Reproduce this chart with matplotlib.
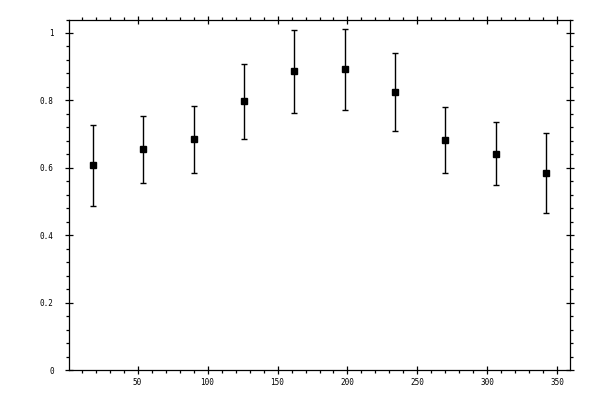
import matplotlib
matplotlib.use("Agg")
import matplotlib.pyplot as plt
from matplotlib.ticker import MultipleLocator, FuncFormatter

x_vals = [18, 54, 90, 126, 162, 198, 234, 270, 306, 342]
y_vals = [0.607, 0.655, 0.684, 0.797, 0.886, 0.892, 0.825, 0.682, 0.642, 0.584]
y_err = [0.119, 0.100, 0.100, 0.112, 0.124, 0.121, 0.115, 0.097, 0.093, 0.118]

fig = plt.figure(figsize=(6, 4), dpi=100)
ax = fig.add_axes([0.115, 0.075, 0.835, 0.87625])

ax.errorbar(x_vals, y_vals, yerr=y_err, fmt='s', color='black', ms=5,
            mec='black', mfc='black',
            elinewidth=1, capsize=2.2, capthick=1)

ax.set_xlim(1, 359)
ax.set_ylim(0, 1.04)

ax.xaxis.set_major_locator(MultipleLocator(50))
ax.xaxis.set_minor_locator(MultipleLocator(10))
ax.yaxis.set_major_locator(MultipleLocator(0.2))
ax.yaxis.set_minor_locator(MultipleLocator(0.04))
ax.yaxis.set_major_formatter(FuncFormatter(lambda v, p: f"{v:g}"))
ax.xaxis.set_major_formatter(FuncFormatter(lambda v, p: f"{v:g}"))

for s in ax.spines.values():
    s.set_linewidth(0.9)

ax.tick_params(which='major', direction='inout', length=6, width=0.9,
               top=True, right=True, labelsize=5.5, pad=3)
ax.tick_params(which='minor', direction='out', length=2.4, width=0.9,
               top=True, right=True)
ax.tick_params(axis='y', which='major', pad=8)

for lab in ax.get_xticklabels() + ax.get_yticklabels():
    lab.set_family('DejaVu Sans Mono')

fig.savefig("out.png", dpi=100)
